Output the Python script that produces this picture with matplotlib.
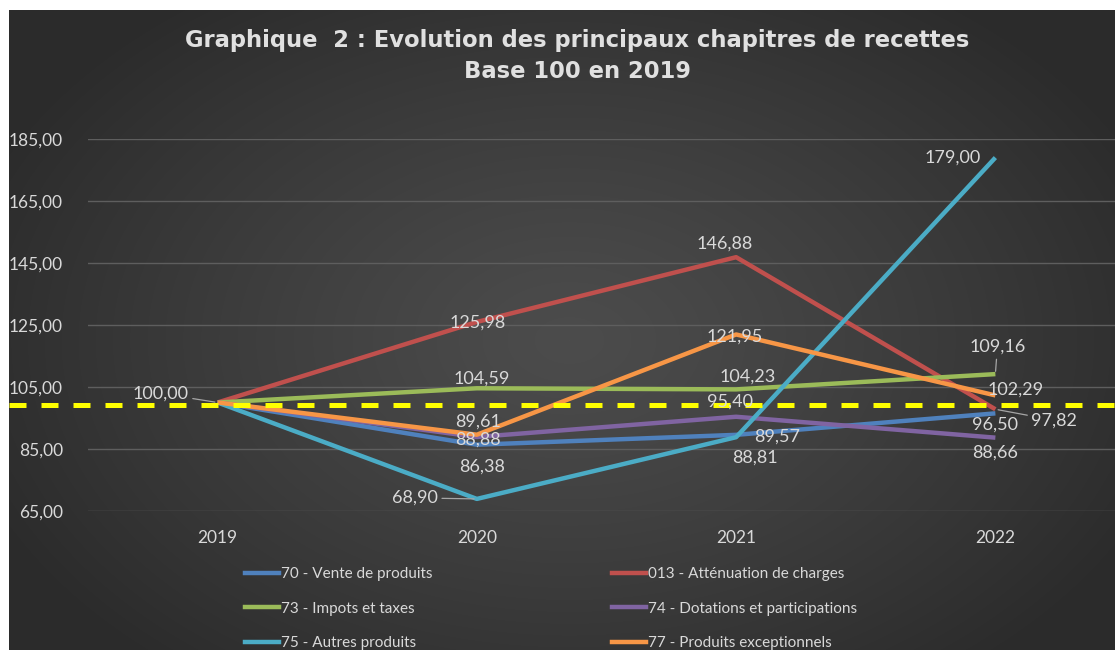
import numpy as np
import matplotlib
matplotlib.use("Agg")
import matplotlib.pyplot as plt
from matplotlib.lines import Line2D
from matplotlib import transforms

plt.rcParams['font.family'] = ['Lato', 'DejaVu Sans']

# données (base 100 en 2019)
annees = ['2019', '2020', '2021', '2022']
series = [
    '70 - Vente de produits',
    '013 - Atténuation de charges',
    '73 - Impots et taxes',
    '74 - Dotations et participations',
    '75 - Autres produits',
    '77 - Produits exceptionnels',
]
vente_produits = [100.00, 86.38, 89.57, 96.50]
attenuation_charges = [100.00, 125.98, 146.88, 97.82]
impots_taxes = [100.00, 104.59, 104.23, 109.16]
dotations = [100.00, 88.88, 95.40, 88.66]
autres_produits = [100.00, 68.90, 88.81, 179.00]
produits_except = [100.00, 89.61, 121.95, 102.29]
valeurs = [vente_produits, attenuation_charges, impots_taxes,
           dotations, autres_produits, produits_except]
base = 100

couleurs = ['#4f81bd', '#c0504d', '#9bbb59', '#8064a2', '#4bacc6', '#f79646']

# position des étiquettes (décalage en pixels, par série et par année)
decalages = [
    [(-57, 9), (5, -22), (41, -2), (0, -11)],
    [None, (1, -1), (-11, 14), (59, -11)],
    [None, (5, 10), (12, 13), (2, 27)],
    [None, (1, -3), (-6, 15), (0, -15)],
    [None, (-62, 1), (19, -20), (-43, 0)],
    [None, (1, 13), (-1, -2), (20, 6)],
]
avec_trait = {(0, 0), (1, 3), (2, 3), (4, 1)}

W, H = 1115, 650
fig = plt.figure(figsize=(W / 100, H / 100), dpi=100)
fig.patch.set_facecolor('white')

# fond en dégradé radial
bg = fig.add_axes([9 / W, 0, 1 - 9 / W, 1 - 10 / H])
bg.set_axis_off()
yy, xx = np.mgrid[0:640, 0:1106]
t = np.sqrt(((xx - 560) / 640.0) ** 2 + ((yy - 330) / 430.0) ** 2)
t = np.clip(t, 0, 1) ** 1.2
centre = np.array([76, 76, 76]) / 255.0
bord = np.array([43, 43, 43]) / 255.0
img = centre[None, None, :] * (1 - t[..., None]) + bord[None, None, :] * t[..., None]
bg.imshow(img, aspect='auto', extent=[0, 1, 0, 1])
bg.set_xlim(0, 1)
bg.set_ylim(0, 1)

ax = fig.add_axes([88 / W, 1 - 511 / H, 1037 / W, 372 / H])
ax.set_facecolor('none')
x = np.arange(len(annees))

for i, (vals, col) in enumerate(zip(valeurs, couleurs)):
    ax.plot(x, vals, color=col, lw=3.2, solid_capstyle='butt', zorder=3)

# ligne de base 100
trans = transforms.blended_transform_factory(fig.transFigure, ax.transData)
ax.plot([9 / W, 1], [base - 0.8, base - 0.8], transform=trans, color='#ffff00',
        lw=3.6, dashes=(3.4, 3.0), zorder=4, clip_on=False)

for i, vals in enumerate(valeurs):
    for j, v in enumerate(vals):
        off = decalages[i][j]
        if off is None:
            continue
        txt = f"{v:.2f}".replace('.', ',')
        kw = {}
        if (i, j) in avec_trait:
            kw['arrowprops'] = dict(arrowstyle='-', color='#a6a6a6', lw=0.9,
                                    shrinkA=1, shrinkB=2)
        ax.annotate(txt, (x[j], v), xytext=off, textcoords='offset pixels',
                    ha='center', va='center', color='#d9d9d9', fontsize=13,
                    zorder=6, **kw)

ax.set_xlim(-0.5, 3.5)
ax.set_ylim(65, 185)
ax.set_yticks(np.arange(65, 186, 20))
ax.set_yticklabels([f"{v:.2f}".replace('.', ',') for v in np.arange(65, 186, 20)])
ax.set_xticks(x)
ax.set_xticklabels(annees)
ax.tick_params(axis='y', length=0, pad=18, colors='#d9d9d9', labelsize=12.5)
ax.tick_params(axis='x', length=0, pad=14, colors='#d9d9d9', labelsize=12.5)
for s in ax.spines.values():
    s.set_visible(False)
ax.grid(axis='y', color='#5e5e5e', lw=1)
ax.set_axisbelow(True)

fig.text(577 / W, 1 - 40 / H, 'Graphique  2 : Evolution des principaux chapitres de recettes',
         ha='center', va='center', color='#e0e0e0', fontsize=16.3, fontweight='bold',
         family='DejaVu Sans')
fig.text(577 / W, 1 - 72 / H, 'Base 100 en 2019',
         ha='center', va='center', color='#e0e0e0', fontsize=16.3, fontweight='bold',
         family='DejaVu Sans')

# légende en deux colonnes
poignees = [Line2D([], [], color=c, lw=3.2) for c in couleurs]
for k, x0 in enumerate([245, 612]):
    idx = [k, k + 2, k + 4]
    fig.legend([poignees[n] for n in idx], [series[n] for n in idx],
               loc='upper left', bbox_to_anchor=(x0 / W, 1 - 567 / H),
               frameon=False, fontsize=11, labelcolor='#d9d9d9',
               handlelength=2.2, handletextpad=0.15, labelspacing=1.35,
               borderpad=0, borderaxespad=0)

fig.savefig('out.png', dpi=100)
